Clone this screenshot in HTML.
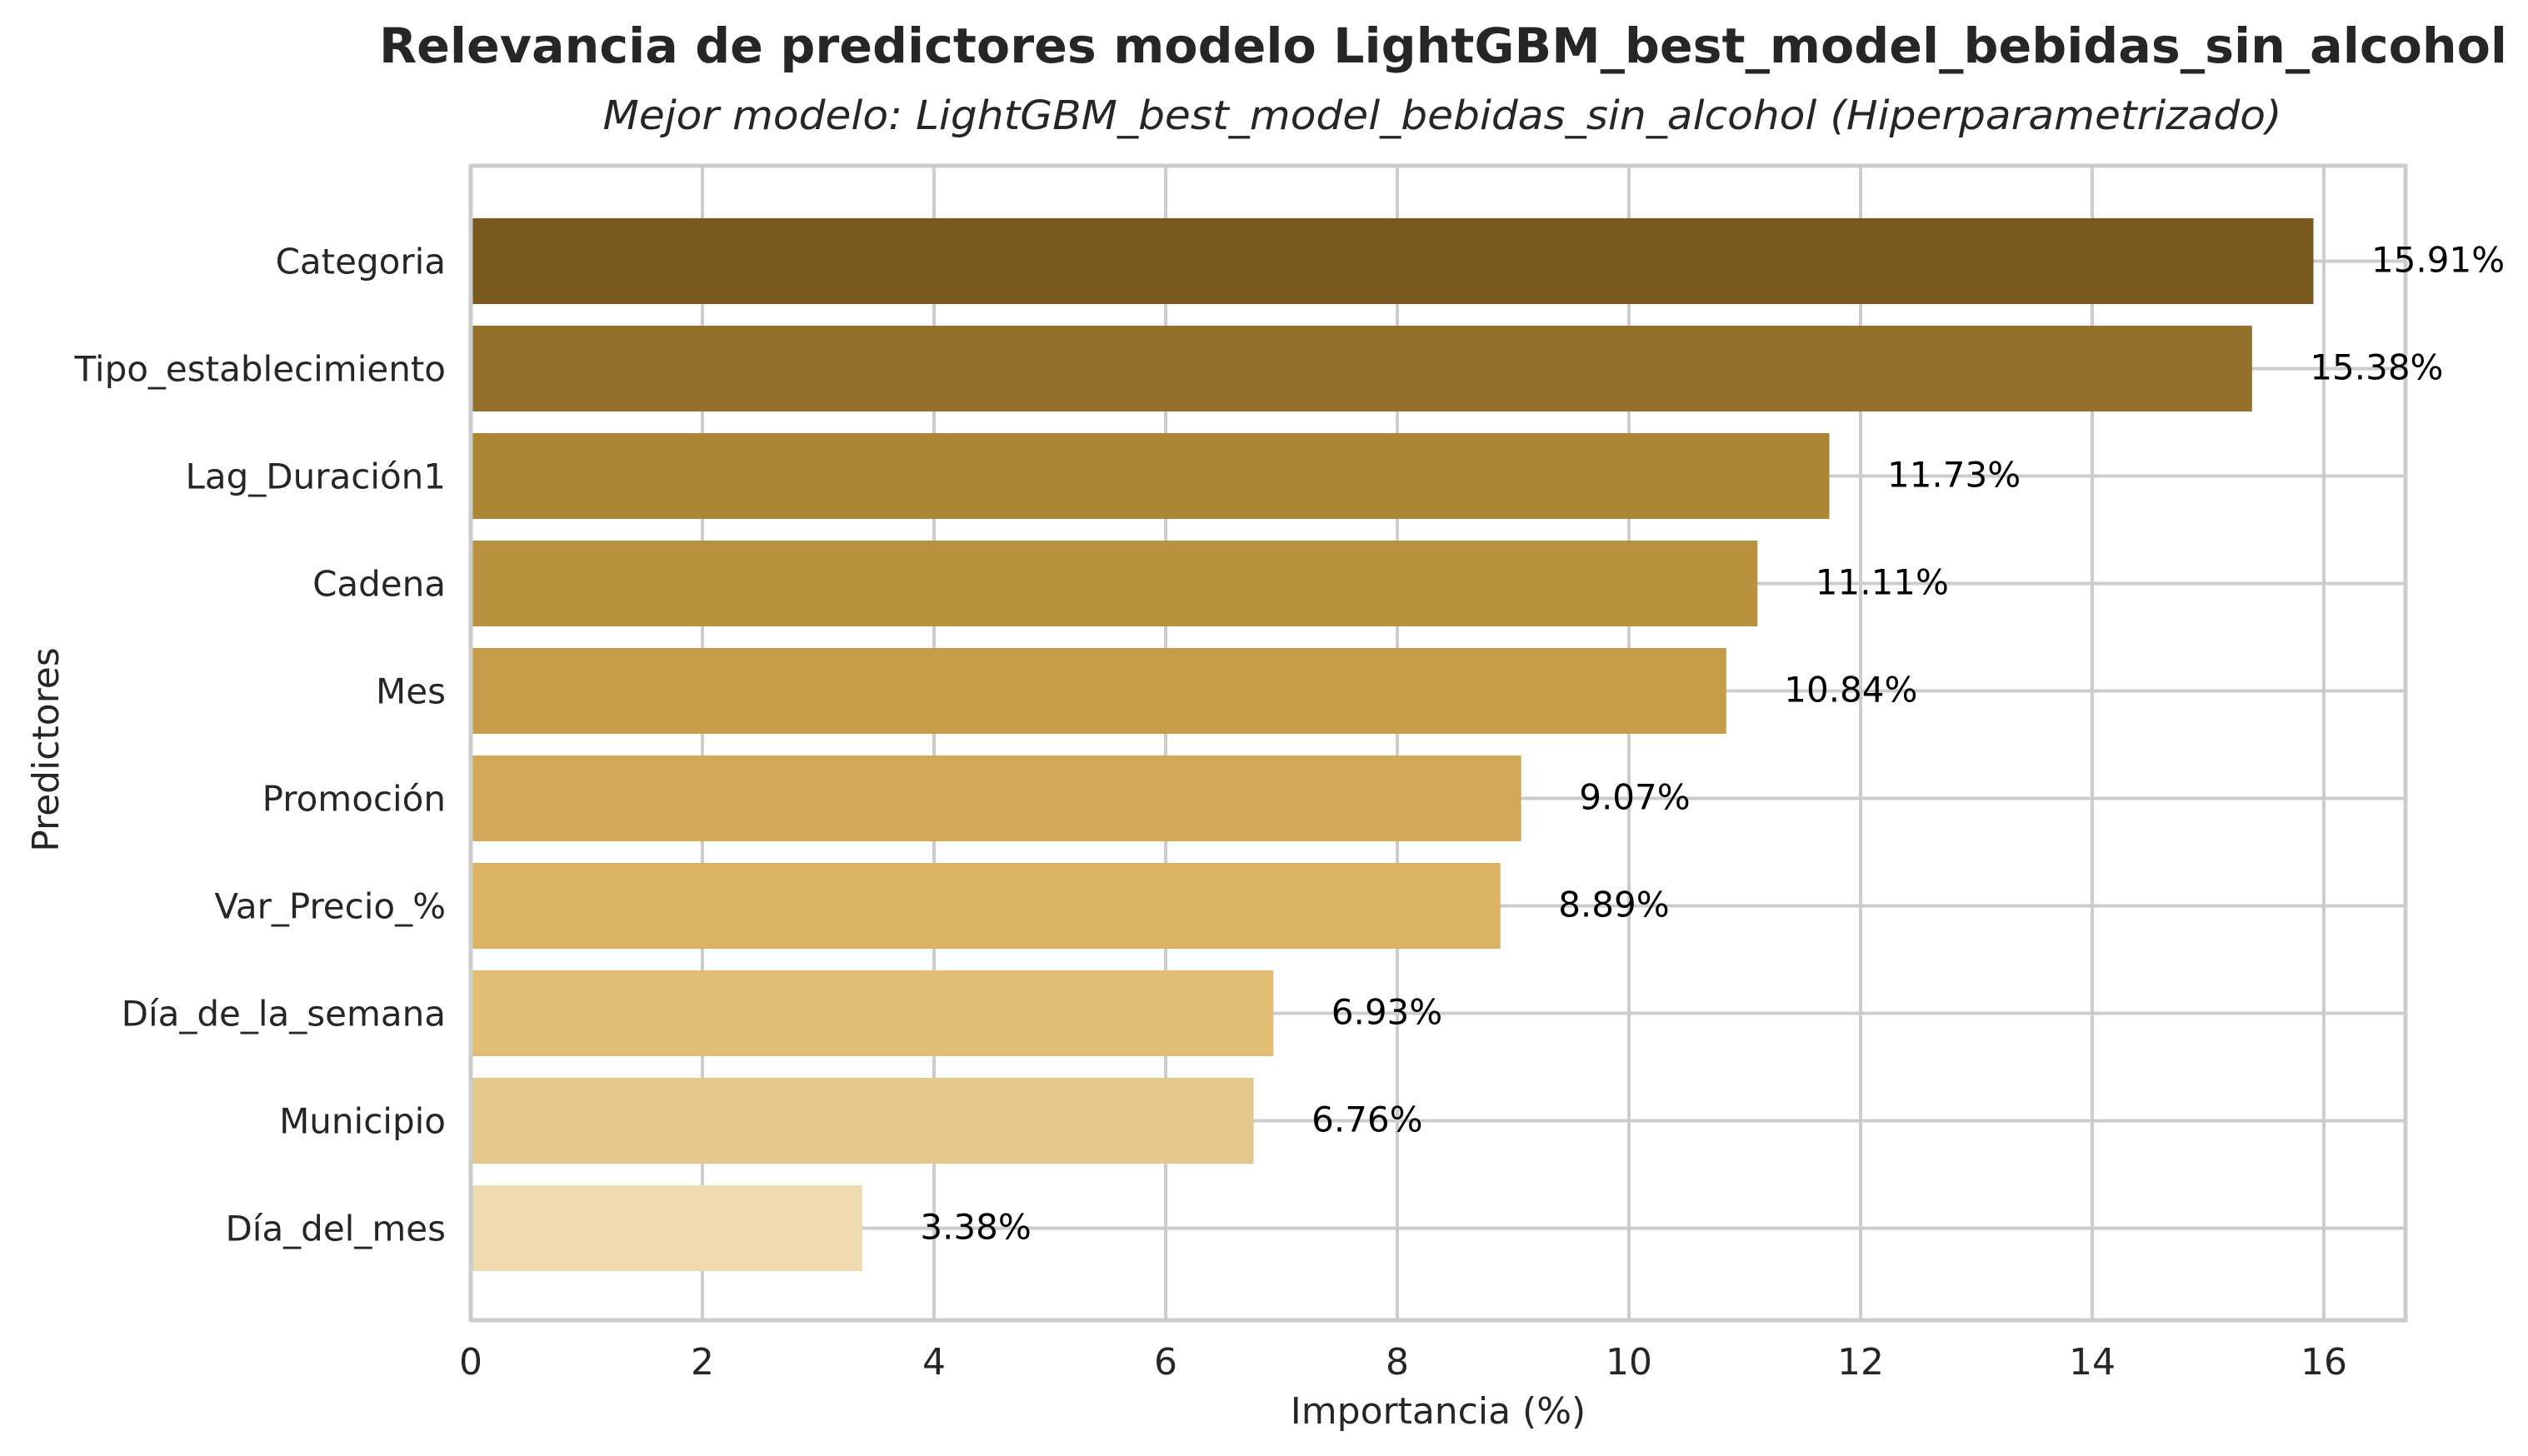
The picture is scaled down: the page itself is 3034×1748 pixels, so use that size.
<!DOCTYPE html>
<html><head><meta charset="utf-8"><style>
html,body{margin:0;padding:0;background:#fff;}
svg{display:block;font-family:"DejaVu Sans","Liberation Sans",sans-serif;}
</style></head><body>
<svg id="chart" width="3034" height="1748" viewBox="0 0 3034 1748">
<text x="1732" y="75" text-anchor="middle" font-size="58" font-weight="bold" fill="#262626" textLength="2554" lengthAdjust="spacingAndGlyphs">Relevancia de predictores modelo LightGBM_best_model_bebidas_sin_alcohol</text>
<text x="1731" y="155" text-anchor="middle" font-size="48" font-style="italic" fill="#262626" textLength="2015" lengthAdjust="spacingAndGlyphs">Mejor modelo: LightGBM_best_model_bebidas_sin_alcohol (Hiperparametrizado)</text>
<g id="grid"></g>
<g id="bars"></g>
<rect x="565" y="199" width="2322" height="1386" fill="none" stroke="#cccccc" stroke-width="5"/>
<g id="labels"></g>
<text x="1726" y="1709" text-anchor="middle" font-size="44" fill="#262626">Importancia (%)</text>
<text transform="translate(70,900) rotate(-90)" text-anchor="middle" font-size="44" fill="#262626">Predictores</text>
</svg>
<script>
const categories = ["Categoria","Tipo_establecimiento","Lag_Duración1","Cadena","Mes","Promoción","Var_Precio_%","Día_de_la_semana","Municipio","Día_del_mes"];
const values = [15.91,15.38,11.73,11.11,10.84,9.07,8.89,6.93,6.76,3.38];
const colors = ["#7b5a20","#93712b","#ab8735","#b9923f","#c49c4a","#d2a95a","#d9b264","#e0bd72","#e5c98c","#efdab0"];
const xTicks = [0,2,4,6,8,10,12,14,16];
const NS="http://www.w3.org/2000/svg";
const L=565,R=2887,T=199,B=1585,XMAX=16.705;
const x=v=>L+v/XMAX*(R-L);
const step=129, y0=313.5, bh=103;
const y=i=>y0+i*step;
function mk(tag,attrs,parent){const e=document.createElementNS(NS,tag);for(const k in attrs)e.setAttribute(k,attrs[k]);document.getElementById(parent).appendChild(e);return e;}
xTicks.forEach(t=>{
  const g=mk("line",{x1:x(t),x2:x(t),y1:T,y2:B,stroke:"#cccccc","stroke-width":4},"grid");
  
  
  const tx=mk("text",{x:x(t),y:1650,"text-anchor":"middle","font-size":44,fill:"#262626"},"labels");
  tx.textContent=t;
  
  
});
categories.forEach((c,i)=>{
  const g=mk("line",{x1:L,x2:R,y1:y(i),y2:y(i),stroke:"#cccccc","stroke-width":4},"grid");
  
  
  const b=mk("rect",{x:L,y:y(i)-bh/2,width:x(values[i])-L,height:bh,fill:colors[i]},"bars");
  
  
  const yl=mk("text",{x:535,y:y(i)+15,"text-anchor":"end","font-size":42,fill:"#262626"},"labels");
  yl.textContent=c;
  
  
  const vl=mk("text",{x:x(values[i]+0.5),y:y(i)+13,"font-size":42,fill:"#000"},"labels");
  vl.textContent=values[i].toFixed(2)+"%";
  
  
});
</script>
</body></html>
